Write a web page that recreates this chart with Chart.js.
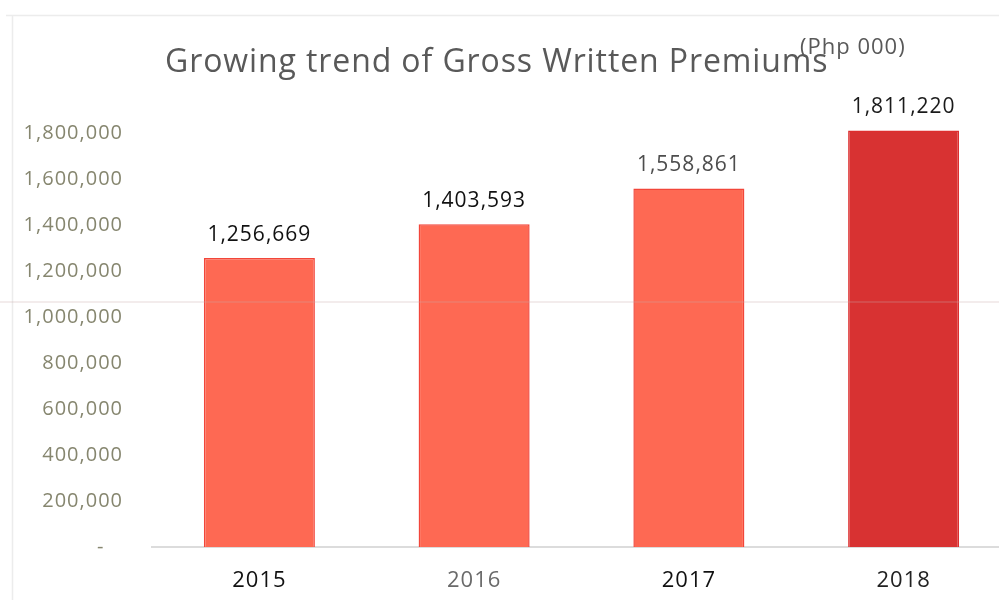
<!DOCTYPE html>
<html>
<head>
<meta charset="utf-8">
<script src="https://cdn.jsdelivr.net/npm/chart.js@4.4.0/dist/chart.umd.min.js"></script>
<style>
  html, body { margin: 0; padding: 0; background: #fff; overflow: hidden; }
  #wrap { position: relative; width: 1015px; height: 600px; }
</style>
</head>
<body>
<div id="wrap"><canvas id="c" width="1015" height="600"></canvas></div>
<script>
// ---- data ----
const years = ['2015', '2016', '2017', '2018'];
const premiums = [1256669, 1403593, 1558861, 1811220];
const yTickValues = [0, 200000, 400000, 600000, 800000, 1000000, 1200000, 1400000, 1600000, 1800000];
const chartTitle = 'Growing trend of Gross Written Premiums';
const unitNote = '(Php 000)';

// ---- styles ----
const barFill = ['#fe6953', '#fe6953', '#fe6953', '#d83232'];
const barBorder = ['#f2463a', '#f2463a', '#f2463a', '#dd2e2e'];
const xLabelColors = ['#111111', '#6a6a6a', '#111111', '#222222'];
const valueLabelColors = ['#111111', '#111111', '#4d4d4d', '#1a1a1a'];
const fmt = v => v.toLocaleString('en-US');

const decorPlugin = {
  id: 'decor',
  beforeDraw(chart) {
    const ctx = chart.ctx;
    ctx.save();
    ctx.fillStyle = '#ffffff';
    ctx.fillRect(0, 0, chart.width, chart.height);
    // faint scan edges
    ctx.strokeStyle = '#ececec';
    ctx.lineWidth = 1.5;
    ctx.beginPath();
    ctx.moveTo(6, 15.5); ctx.lineTo(chart.width, 15.5);
    ctx.moveTo(12.5, 15); ctx.lineTo(12.5, chart.height);
    ctx.stroke();
    ctx.restore();
    ctx.letterSpacing = '1px';
  },
  afterDraw(chart) {
    const ctx = chart.ctx;
    ctx.save();
    ctx.letterSpacing = '0.9px';
    // title
    ctx.fillStyle = '#595959';
    ctx.font = '32px "Open Sans", sans-serif';
    ctx.textAlign = 'left';
    ctx.textBaseline = 'alphabetic';
    ctx.fillText(chartTitle, 165, 72);
    ctx.letterSpacing = '1px';
    ctx.font = '22px "Open Sans", sans-serif';
    ctx.fillText(unitNote, 800, 54);
    // faint horizontal scan line
    ctx.strokeStyle = 'rgba(200,170,170,0.22)';
    ctx.lineWidth = 2;
    ctx.beginPath();
    ctx.moveTo(0, 302); ctx.lineTo(chart.width, 302);
    ctx.stroke();
    ctx.restore();
  }
};

const valueLabelPlugin = {
  id: 'valueLabels',
  afterDatasetsDraw(chart) {
    const ctx = chart.ctx;
    const meta = chart.getDatasetMeta(0);
    ctx.save();
    ctx.letterSpacing = '1px';
    ctx.font = '21px "Open Sans", sans-serif';
    ctx.textAlign = 'center';
    ctx.textBaseline = 'middle';
    meta.data.forEach((bar, i) => {
      ctx.fillStyle = valueLabelColors[i];
      ctx.fillText(fmt(premiums[i]), bar.x, bar.y - 23);
    });
    ctx.restore();
  }
};

new Chart(document.getElementById('c'), {
  type: 'bar',
  data: {
    labels: years,
    datasets: [{
      data: premiums,
      backgroundColor: barFill,
      borderColor: barBorder,
      borderWidth: 1.5,
      borderSkipped: 'bottom',
      categoryPercentage: 1.0,
      barPercentage: 0.517
    }]
  },
  options: {
    responsive: false,
    animation: false,
    layout: { padding: { top: 87, right: 4, left: 0, bottom: 0 } },
    plugins: {
      legend: { display: false },
      tooltip: { enabled: false },
      title: { display: false }
    },
    scales: {
      x: {
        grid: { display: false, drawTicks: false },
        border: { display: true, color: '#dcdcdc', width: 2 },
        ticks: {
          padding: 21,
          color: ctx => xLabelColors[ctx.index],
          font: { family: '"Open Sans", sans-serif', size: 22 }
        },
        afterFit(scale) { scale.height = 53; }
      },
      y: {
        min: 0,
        max: 2000000,
        grid: { display: false, drawTicks: false },
        border: { display: false },
        ticks: {
          stepSize: 200000,
          padding: 29,
          color: '#86866f',
          font: { family: '"Open Sans", sans-serif', size: 20 },
          callback: v => v === 0 ? '-   ' : fmt(v)
        },
        afterBuildTicks(scale) {
          scale.ticks = yTickValues.map(v => ({ value: v }));
        },
        afterFit(scale) { scale.width = 152; }
      }
    }
  },
  plugins: [decorPlugin, valueLabelPlugin]
});
</script>
</body>
</html>
